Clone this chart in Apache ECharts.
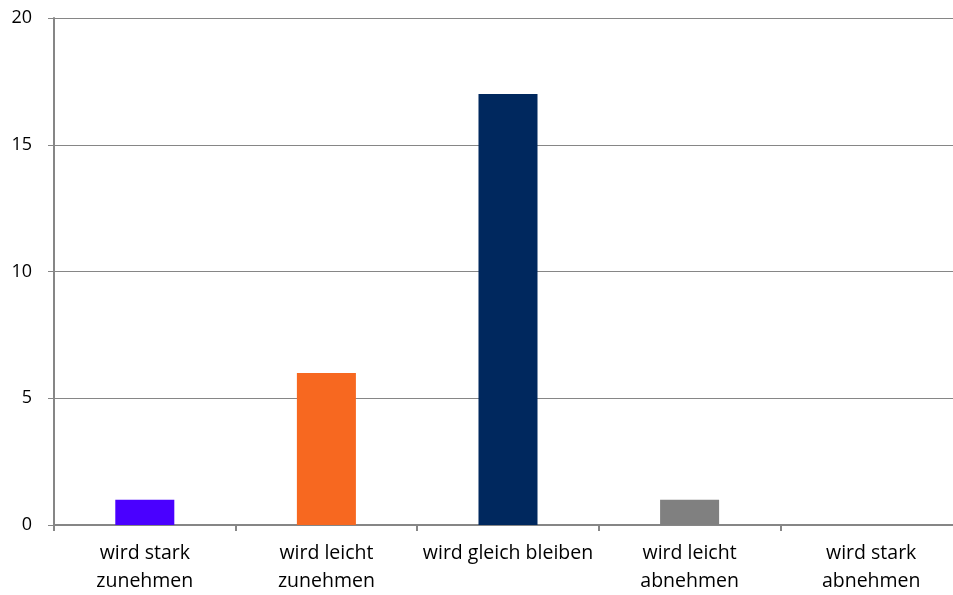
<!DOCTYPE html>
<html>
<head>
<meta charset="utf-8">
<script src="https://cdn.jsdelivr.net/npm/echarts@6/dist/echarts.min.js"></script>
<style>
  html, body { margin: 0; padding: 0; background: #fff; overflow: hidden; }
  #chart { width: 953px; height: 595px; }
</style>
</head>
<body>
<div id="chart"></div>
<script>
// Survey answers: expected development
const categories = ['wird stark\nzunehmen', 'wird leicht\nzunehmen', 'wird gleich bleiben', 'wird leicht\nabnehmen', 'wird stark\nabnehmen'];
const counts = [1, 6, 17, 1, 0];
const barColors = ['#4A00FF', '#F76820', '#00285E', '#808080', '#4F81BD'];
const yTicks = { min: 0, max: 20, step: 5 };

const axisGray = '#868686';
const font = '"Open Sans", Lato, sans-serif';

const chart = echarts.init(document.getElementById('chart'), null, { renderer: 'canvas' });
chart.setOption({
  animation: false,
  backgroundColor: '#ffffff',
  // plot area runs a little past the right edge of the canvas
  grid: { left: 54, width: 908, top: 18, bottom: 70, containLabel: false, outerBoundsMode: 'none' },
  xAxis: {
    type: 'category',
    data: categories,
    axisLine: { lineStyle: { color: axisGray, width: 2 } },
    axisTick: { show: true, alignWithLabel: false, length: 6, lineStyle: { color: axisGray, width: 2 } },
    axisLabel: { color: '#000', fontFamily: font, fontSize: 19.5, lineHeight: 28, margin: 14, interval: 0 },
    splitLine: { show: false }
  },
  yAxis: {
    type: 'value',
    min: yTicks.min,
    max: yTicks.max,
    interval: yTicks.step,
    axisLine: { show: true, lineStyle: { color: axisGray, width: 2 } },
    axisTick: { show: true, length: 6, lineStyle: { color: axisGray, width: 1 } },
    axisLabel: { color: '#000', fontFamily: font, fontSize: 18, margin: 22 },
    splitLine: { show: true, lineStyle: { color: axisGray, width: 1 } }
  },
  series: [{
    type: 'bar',
    data: counts.map((v, i) => ({ value: v, itemStyle: { color: barColors[i] } })),
    barWidth: '32.5%'
  }]
});
</script>
</body>
</html>
